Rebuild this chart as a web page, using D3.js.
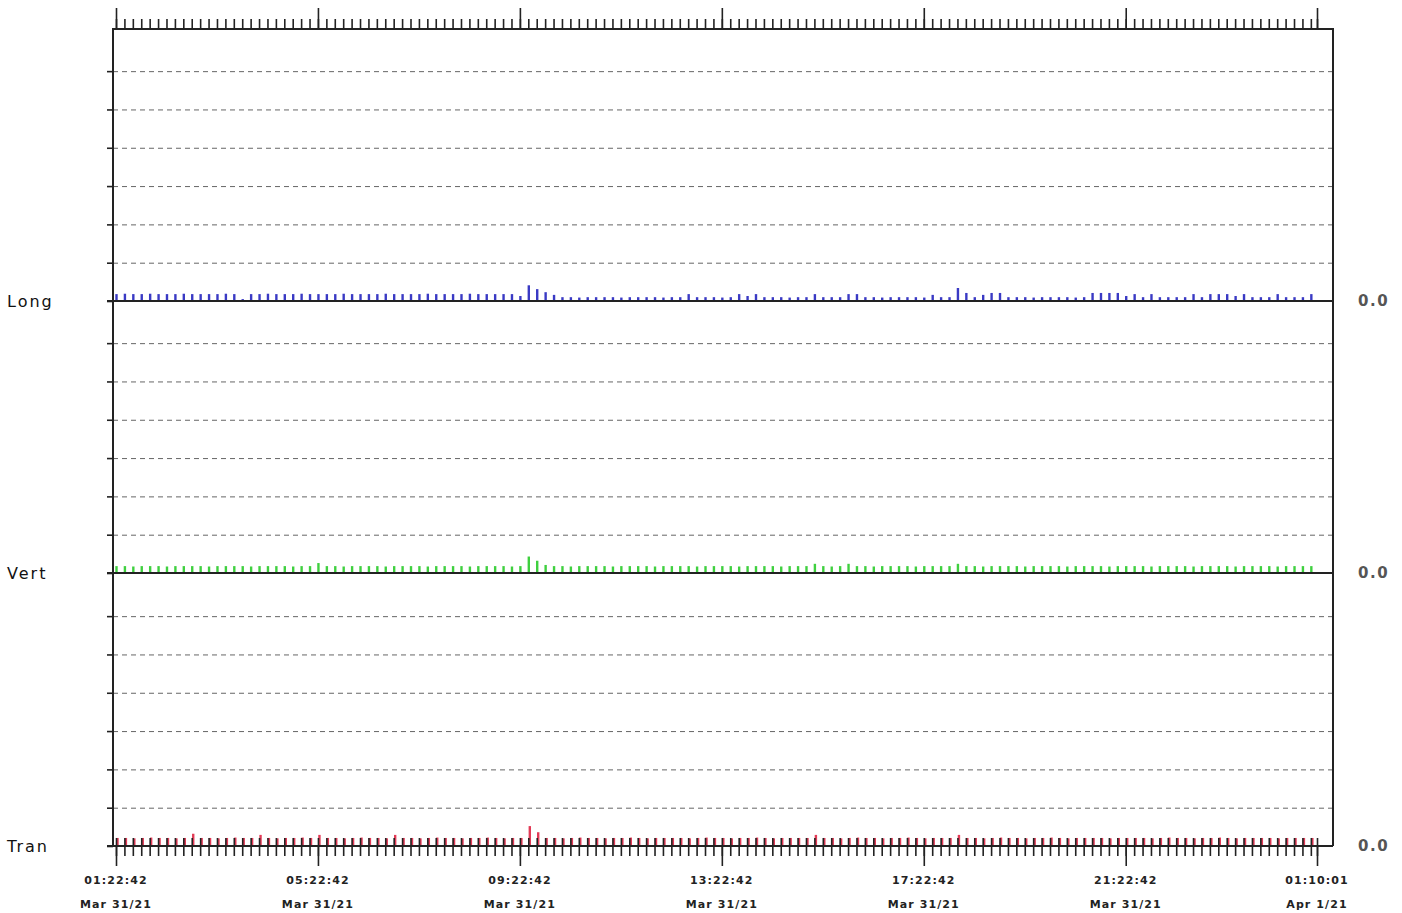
<!DOCTYPE html>
<html>
<head>
<meta charset="utf-8">
<script src="https://cdn.jsdelivr.net/npm/d3@7"></script>
<style>
  body { margin: 0; background: #fff; }
  .axis path.domain { display: none; }
  .axis line { stroke: #222; stroke-width: 1.6; }
  .grid line { stroke: #666; stroke-width: 1; stroke-dasharray: 5,4; }
  .chan { font-family: 'DejaVu Sans', sans-serif; font-size: 16px; fill: #111; letter-spacing: 2px; }
  .zero text { font-family: 'DejaVu Sans', sans-serif; font-size: 15px; font-weight: bold; fill: #555; letter-spacing: 1.5px; }
  .tlabel { font-family: 'DejaVu Sans', sans-serif; font-size: 11px; font-weight: bold; fill: #222; letter-spacing: 1.1px; }
</style>
</head>
<body>
<div id="chart"></div>
<script>
var startTime = '2021-03-31 01:22:42';
var endTime = '2021-04-01 01:10:01';
var majorTicks = ['2021-03-31 01:22:42', '2021-03-31 05:22:42', '2021-03-31 09:22:42',
  '2021-03-31 13:22:42', '2021-03-31 17:22:42', '2021-03-31 21:22:42', '2021-04-01 01:10:01'];
var sampleMinutes = 10;
var channels = ['Long', 'Vert', 'Tran'];
var gridLevels = [1, 2, 3, 4, 5, 6];

// one value every 10 minutes
var longValues = [
  0.18,0.19,0.18,0.18,0.19,0.18,0.18,0.18,0.19,0.18,0.18,0.18,0.18,0.19,0.18,
  0.05,
  0.18,0.18,0.19,0.18,0.18,0.18,0.19,0.18,0.18,0.18,0.18,0.19,0.18,0.18,0.18,0.18,
  0.19,0.18,0.18,0.18,0.18,0.19,0.18,0.18,0.18,0.18,0.19,0.18,0.18,0.18,0.18,0.18,
  0.13,0.41,0.31,0.23,0.16,
  0.10,0.10,0.09,0.10,0.10,0.10,0.10,0.09,0.10,0.10,0.10,0.10,0.09,0.10,0.10,
  0.18,0.10,0.10,0.10,0.09,0.10,
  0.18,0.13,0.18,
  0.10,0.10,0.10,0.09,0.10,0.10,
  0.18,0.10,0.10,0.10,
  0.18,0.18,
  0.10,0.10,0.09,0.10,0.10,0.10,0.10,0.09,
  0.16,0.10,0.10,
  0.34,0.21,0.10,0.16,0.21,0.21,
  0.10,0.10,0.10,0.09,0.10,0.10,0.10,0.10,0.09,0.10,
  0.21,0.21,0.21,0.21,
  0.13,0.18,0.10,0.18,0.10,0.10,0.10,0.10,0.18,0.10,0.18,0.18,0.18,0.13,0.18,0.10,0.10,0.10,0.18,0.10,0.10,0.10,0.18
];
var vertValues = [
  0.18,0.18,0.17,0.18,0.18,0.18,0.17,0.18,0.18,0.18,0.18,0.17,0.18,0.18,0.18,0.18,0.17,0.18,0.18,0.18,0.18,0.17,0.18,0.18,
  0.26,
  0.18,0.18,0.17,0.18,0.18,0.18,0.18,0.17,0.18,0.18,0.18,0.18,0.17,0.18,0.18,0.18,0.18,0.17,0.18,0.18,0.18,0.18,0.17,0.18,
  0.43,0.32,0.21,
  0.18,0.18,0.17,0.18,0.18,0.18,0.18,0.17,0.18,0.18,0.18,0.18,0.17,0.18,0.18,0.18,
  0.18,0.17,0.18,0.18,0.18,0.18,0.17,0.18,0.18,0.18,0.18,0.17,0.18,0.18,0.18,
  0.24,
  0.18,0.17,0.18,
  0.24,
  0.18,0.18,0.17,0.18,0.18,0.18,0.18,0.17,0.18,0.18,0.18,0.18,
  0.24,
  0.18,0.18,0.17,0.18,0.18,0.18,0.18,0.17,0.18,0.18,0.18,0.18,0.17,0.18,0.18,0.18,0.18,0.17,0.18,0.18,0.18,
  0.18,0.17,0.18,0.18,0.18,0.18,0.17,0.18,0.18,0.18,0.18,0.17,0.18,0.18,0.18,0.18,0.17,0.18,0.18,0.18,0.18
];
var tranValues = [
  0.21,0.21,0.20,0.21,0.22,0.21,0.21,0.20,0.21,
  0.32,
  0.21,0.21,0.20,0.21,0.22,0.21,0.21,
  0.29,
  0.21,0.20,0.21,0.21,0.22,0.21,
  0.29,
  0.21,0.21,0.20,0.21,0.22,0.21,0.21,0.20,
  0.29,
  0.21,0.21,0.20,0.21,0.22,0.21,0.21,0.20,0.21,0.21,0.22,0.21,0.20,0.21,0.21,
  0.52,0.36,
  0.21,0.21,0.20,0.21,0.22,0.21,0.21,0.20,0.21,0.21,0.22,0.21,0.20,0.21,0.21,0.21,
  0.21,0.20,0.21,0.22,0.21,0.21,0.20,0.21,0.21,0.22,0.21,0.20,0.21,0.21,0.21,0.21,
  0.29,
  0.21,0.21,0.20,0.21,0.22,0.21,0.21,0.20,0.21,0.21,0.22,0.21,0.20,0.21,0.21,0.21,
  0.29,
  0.21,0.21,0.20,0.21,0.22,0.21,0.21,0.20,0.21,0.21,0.22,0.21,0.20,0.21,0.21,0.21,0.21,0.20,0.21,0.21,0.21,
  0.21,0.20,0.21,0.22,0.21,0.21,0.20,0.21,0.21,0.22,0.21,0.20,0.21,0.21,0.21,0.21,0.20,0.21,0.21,0.21,0.21
];
var seriesValues = [longValues, vertValues, tranValues];
var seriesColors = ['#3a3ac4', '#3fd03f', '#e23a56'];

var width = 1402, height = 913;
var plotLeft = 113, plotRight = 1333, plotTop = 29;
var panelHeight = 272;
var baselines = [301, 573, 846];

var parse = d3.timeParse('%Y-%m-%d %H:%M:%S');
var fmtTime = d3.timeFormat('%H:%M:%S');
var fmtDate = d3.timeFormat('%b %-d/%y');
var t0 = parse(startTime), t1 = parse(endTime);
var majors = majorTicks.map(parse);
var sampleTimes = longValues.map(function(d, i) { return d3.timeMinute.offset(t0, i * sampleMinutes); });
var minorTimes = sampleTimes.concat([t1]);

var x = d3.scaleTime().domain([t0, t1]).range([116, 1317]);

var svg = d3.select('#chart').append('svg')
  .attr('width', width)
  .attr('height', height);
svg.append('rect').attr('width', width).attr('height', height).attr('fill', '#fff');

// panels
baselines.forEach(function(base, k) {
  var y = d3.scaleLinear().domain([0, 7.1]).range([base, base - panelHeight]);
  var g = svg.append('g').attr('class', 'panel');

  g.append('g').attr('class', 'grid')
    .attr('transform', 'translate(' + plotLeft + ',0)')
    .call(d3.axisLeft(y).tickValues(gridLevels).tickSize(-(plotRight - plotLeft)).tickFormat(''))
    .select('.domain').remove();

  g.append('g').attr('class', 'axis')
    .attr('transform', 'translate(' + plotLeft + ',0)')
    .call(d3.axisLeft(y).tickValues([0].concat(gridLevels)).tickSize(6).tickFormat(''));

  g.selectAll('line.bar').data(seriesValues[k])
    .enter().append('line')
    .attr('class', 'bar')
    .attr('x1', function(d, i) { return x(sampleTimes[i]) + (k === 2 ? 1.5 : 0.5); })
    .attr('x2', function(d, i) { return x(sampleTimes[i]) + (k === 2 ? 1.5 : 0.5); })
    .attr('y1', y(0))
    .attr('y2', function(d) { return y(d); })
    .attr('stroke', seriesColors[k])
    .attr('stroke-width', 2.4);

  g.append('line')
    .attr('x1', plotLeft - 6).attr('x2', plotRight)
    .attr('y1', y(0)).attr('y2', y(0))
    .attr('stroke', '#222').attr('stroke-width', 2);

  g.append('text').attr('class', 'chan')
    .attr('x', 7).attr('y', base + 6)
    .text(channels[k]);

  g.append('g').attr('class', 'zero')
    .attr('transform', 'translate(' + plotRight + ',0)')
    .call(d3.axisRight(y).tickValues([0]).tickSize(0).tickPadding(25).tickFormat(d3.format('.1f')))
    .select('.domain').remove();
});

// frame
svg.append('path')
  .attr('d', 'M' + plotLeft + ',' + baselines[2] + 'V' + plotTop + 'H' + plotRight + 'V' + baselines[2])
  .attr('fill', 'none').attr('stroke', '#222').attr('stroke-width', 2);

// top time ticks
svg.append('g').attr('class', 'axis')
  .attr('transform', 'translate(0,' + plotTop + ')')
  .call(d3.axisTop(x).tickValues(minorTimes).tickSize(10).tickFormat(''));
svg.append('g').attr('class', 'axis')
  .attr('transform', 'translate(0,' + plotTop + ')')
  .call(d3.axisTop(x).tickValues(majors).tickSize(21).tickFormat(''));

// bottom time ticks (crossing the baseline)
var bottom = baselines[2];
svg.append('g').attr('class', 'axis')
  .attr('transform', 'translate(0,' + bottom + ')')
  .call(d3.axisBottom(x).tickValues(minorTimes).tickSize(-8).tickFormat(''));
svg.append('g').attr('class', 'axis')
  .attr('transform', 'translate(0,' + bottom + ')')
  .call(d3.axisBottom(x).tickValues(minorTimes).tickSize(10).tickFormat(''));
svg.append('g').attr('class', 'axis')
  .attr('transform', 'translate(0,' + bottom + ')')
  .call(d3.axisBottom(x).tickValues(majors).tickSize(20).tickFormat(''));

var labels = svg.append('g');
labels.selectAll('text.time').data(majors)
  .enter().append('text')
  .attr('class', 'tlabel time')
  .attr('x', function(d) { return x(d); })
  .attr('y', 884)
  .attr('text-anchor', 'middle')
  .text(function(d) { return fmtTime(d); });
labels.selectAll('text.date').data(majors)
  .enter().append('text')
  .attr('class', 'tlabel date')
  .attr('x', function(d) { return x(d); })
  .attr('y', 908)
  .attr('text-anchor', 'middle')
  .text(function(d) { return fmtDate(d); });
</script>
</body>
</html>
